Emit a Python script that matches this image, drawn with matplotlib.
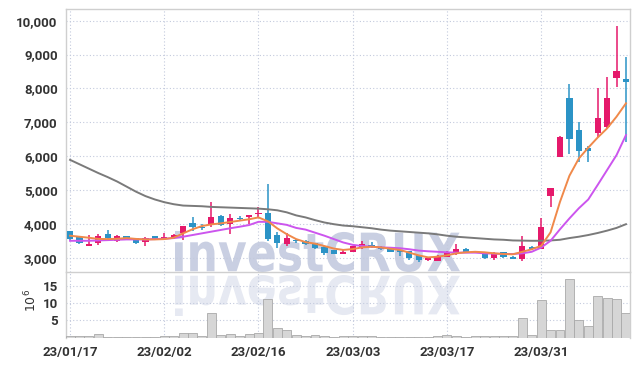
import numpy as np
import pandas as pd
import matplotlib
matplotlib.use("Agg")
import matplotlib.pyplot as plt
from matplotlib.textpath import TextPath
from matplotlib.patches import PathPatch
from matplotlib.font_manager import FontProperties
from matplotlib.transforms import Affine2D

# trading days (KRX holidays skipped)
holidays = ["2023-01-23", "2023-01-24", "2023-03-01"]
dates = pd.bdate_range("2023-01-17", periods=60, freq="C", holidays=holidays)

opens = [3790, 3600, 3350, 3420, 3700, 3500, 3640, 3580, 3470, 3640,
         3560, 3570, 3720, 4020, 3910, 3970, 4240, 3990, 4180, 4190,
         4290, 4330, 3670, 3410, 3520, 3480, 3430, 3330, 3220, 3120,
         3180, 3280, 3390, 3330, 3320, 3220, 3190, 3080, 2920, 2910,
         3030, 3100, 3270, 3200, 3130, 2980, 3160, 3010, 2950, 3320,
         3270, 4830, 5980, 7720, 6770, 6230, 6690, 6850, 8300, 8280]
highs = [3800, 3610, 3680, 3700, 3830, 3670, 3650, 3590, 3600, 3650,
         3740, 3700, 3950, 4200, 3990, 4640, 4250, 4280, 4240, 4270,
         4500, 5170, 3750, 3740, 3550, 3520, 3440, 3340, 3230, 3270,
         3360, 3500, 3470, 3340, 3330, 3230, 3200, 3090, 3010, 3070,
         3200, 3400, 3280, 3210, 3140, 3160, 3170, 3040, 3640, 3350,
         4180, 5060, 6580, 8130, 7000, 6300, 8000, 8350, 9840, 8920]
lows = [3520, 3400, 3340, 3380, 3530, 3460, 3510, 3400, 3340, 3530,
        3550, 3560, 3510, 3800, 3830, 3900, 3950, 3700, 4090, 3990,
        4160, 3500, 3280, 3350, 3440, 3390, 3260, 3080, 3110, 3110,
        3170, 3270, 3280, 3240, 3170, 3060, 2940, 2860, 2910, 2900,
        3020, 3090, 3170, 3140, 2970, 2930, 3000, 2950, 2910, 3230,
        3260, 4490, 5980, 6050, 5830, 5820, 6560, 6830, 8050, 6420]
closes = [3540, 3420, 3400, 3640, 3570, 3640, 3570, 3440, 3570, 3550,
          3610, 3670, 3940, 3900, 3870, 4200, 3970, 4160, 4140, 4260,
          4320, 3560, 3440, 3590, 3480, 3400, 3300, 3140, 3120, 3180,
          3350, 3400, 3340, 3250, 3180, 3180, 3000, 2920, 3000, 3060,
          3180, 3260, 3180, 3150, 2980, 3150, 3010, 2970, 3350, 3270,
          3900, 5050, 6570, 6510, 6160, 6160, 7120, 7710, 8510, 8180]

ma5 = [3650, 3620, 3590, 3555, 3550, 3560, 3580, 3555, 3540, 3540,
       3550, 3590, 3720, 3840, 3935, 3985, 4015, 4055, 4095, 4135,
       4190, 4075, 3865, 3695, 3550, 3460, 3415, 3345, 3270, 3230,
       3255, 3305, 3325, 3305, 3265, 3230, 3150, 3070, 3010, 3030,
       3070, 3130, 3160, 3175, 3160, 3130, 3110, 3100, 3175, 3250,
       3350, 3750, 4650, 5420, 5930, 6250, 6550, 6820, 7165, 7560]
ma10 = [3500, 3500, 3500, 3510, 3520, 3530, 3540, 3540, 3540, 3550,
        3560, 3580, 3620, 3670, 3720, 3770, 3820, 3870, 3915, 3965,
        4060, 4060, 4015, 3970, 3880, 3830, 3740, 3650, 3550, 3450,
        3380, 3345, 3325, 3305, 3295, 3280, 3250, 3210, 3190, 3175,
        3160, 3150, 3150, 3150, 3130, 3120, 3110, 3110, 3130, 3175,
        3300, 3500, 3840, 4160, 4460, 4720, 5150, 5590, 6030, 6620]
ma_long = [5890, 5760, 5630, 5500, 5380, 5250, 5100, 4950, 4820, 4720,
           4640, 4580, 4540, 4530, 4520, 4500, 4490, 4480, 4470, 4460,
           4450, 4430, 4400, 4340, 4250, 4190, 4110, 4040, 3990, 3950,
           3930, 3900, 3870, 3830, 3800, 3780, 3760, 3740, 3720, 3690,
           3650, 3620, 3600, 3580, 3560, 3540, 3530, 3510, 3505, 3500,
           3500, 3510, 3530, 3580, 3620, 3670, 3730, 3800, 3880, 3990]

# volume in millions of shares
volume = [0.5, 0.5, 0.3, 0.9, 0.2, 0.2, 0.2, 0.2, 0.2, 0.2,
          0.3, 0.3, 1.2, 1.2, 0.3, 7.3, 0.8, 1.1, 0.4, 0.9,
          1.2, 11.2, 2.9, 2.3, 0.6, 0.3, 0.6, 0.3, 0.2, 0.3,
          0.5, 0.5, 0.4, 0.2, 0.2, 0.2, 0.2, 0.2, 0.2, 0.3,
          0.6, 0.3, 0.2, 0.3, 0.3, 0.3, 0.3, 0.3, 5.8, 0.8,
          10.9, 2.1, 2.1, 17.2, 5.0, 3.5, 12.2, 11.7, 11.4, 7.3]

UP, DOWN = "#e5196b", "#2b93c6"
GRID = "#c3cadd"
TXT = "#333333"
plt.rcParams["font.family"] = ["Roboto", "DejaVu Sans"]

fig = plt.figure(figsize=(6.39, 3.66), dpi=100, facecolor="white")
ax = fig.add_axes([66 / 639, 1 - 271.7 / 366, 564 / 639, 262.4 / 366], facecolor="none")
axv = fig.add_axes([66 / 639, 1 - 337.5 / 366, 564 / 639, 65.8 / 366], facecolor="none", sharex=ax)

x = np.arange(len(dates))
o, h, l, c = map(np.array, (opens, highs, lows, closes))
up = c >= o
cols = np.where(up, UP, DOWN)
body_lo = np.minimum(o, c)
body_h = np.maximum(np.abs(c - o), 35)

ax.vlines(x, l, h, colors=cols, lw=1.1, zorder=3)
ax.bar(x, body_h, bottom=body_lo, width=0.66, color=cols, zorder=4)
ax.plot(x, ma_long, color="#7a7a7a", lw=1.4, zorder=5)
ax.plot(x, ma10, color="#cc55ee", lw=1.4, zorder=5)
ax.plot(x, ma5, color="#f0894a", lw=1.4, zorder=5)

axv.bar(x, volume, width=0.95, color="#d6d6d6", edgecolor="#a9a9a9", lw=0.6, zorder=3)

ax.set_xlim(-0.43, 59.43)
ax.set_ylim(2587, 10336)
axv.set_ylim(0, 19.3)

ticks = x[::10]
ax.set_xticks(ticks)
axv.set_xticklabels([d.strftime("%y/%m/%d") for d in dates[::10]])
ax.set_yticks(range(3000, 10001, 1000))
ax.set_yticklabels([f"{v:,}" for v in range(3000, 10001, 1000)])
axv.set_yticks([5, 10, 15])
plt.setp(ax.get_xticklabels(), visible=False)

for a in (ax, axv):
    a.grid(True, color=GRID, ls=(0, (1, 2)), lw=0.8, zorder=0)
    a.tick_params(length=0, labelsize=9.5, labelcolor=TXT, pad=6)
    for lab in a.get_xticklabels() + a.get_yticklabels():
        lab.set_fontweight("bold")
    for s in a.spines.values():
        s.set_color("#cfcfcf")
        s.set_linewidth(1.0)
axv.spines["bottom"].set_visible(False)
axv.spines["top"].set_visible(False)

fig.text(31 / 639, 1 - 300 / 366, "$10^6$", rotation=90, ha="center", va="center",
         fontsize=9, color=TXT)

# watermark + mirrored reflection, in pixel coords
fp = FontProperties(family="DejaVu Sans", weight="bold")
tp = TextPath((0, 0), "investCRUX", size=100, prop=fp)
bb = tp.get_extents()
sx, sy = (460 - 175) / bb.width, (272 - 231) / bb.height
tr = Affine2D().translate(-bb.x0, -bb.y0).scale(sx, sy).translate(175, 366 - 272)
fig.add_artist(PathPatch(tp, transform=tr, facecolor="#c9cfe2", edgecolor="none", zorder=-1))
tr2 = Affine2D().translate(-bb.x0, -bb.y0).scale(sx, -sy).translate(175, 366 - 275)
fig.add_artist(PathPatch(tp, transform=tr2, facecolor="#e6e9f2", edgecolor="none", zorder=-1))

fig.savefig("out.png", dpi=100)
